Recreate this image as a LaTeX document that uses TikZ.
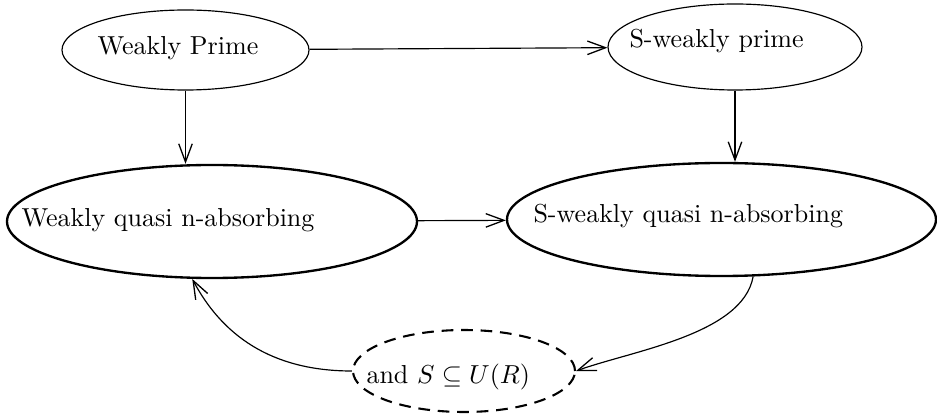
\documentclass[tikz,border=0pt]{standalone}
\usetikzlibrary{arrows.meta,shapes.geometric}
\newcommand\pxu{0.3846pt}
\begin{document}
\begin{tikzpicture}[x=0.3846pt,y=-0.3846pt,
  >={Straight Barb[length=7pt,width=5.2pt,line width=0.5pt]},
  thinell/.style={ellipse,draw,line width=0.45pt,inner sep=0pt},
  bigell/.style={ellipse,draw,line width=0.9pt,inner sep=0pt},
  dashell/.style={ellipse,draw,line width=0.8pt,inner sep=0pt,dash pattern=on 4.5pt off 3pt},
  lbl/.style={anchor=base west,inner sep=0pt},
  conn/.style={->,line width=0.45pt}]
\useasboundingbox (0,0) rectangle (937,415);
% ellipses
\node[thinell,minimum width=247*\pxu,minimum height=80*\pxu] (WP) at (185.5,50) {};
\node[thinell,minimum width=254*\pxu,minimum height=86*\pxu] (SWP) at (735,47) {};
\node[bigell,minimum width=410*\pxu,minimum height=113*\pxu] (WQ) at (212,221.5) {};
\node[bigell,minimum width=429*\pxu,minimum height=113*\pxu] (SWQ) at (721.5,219.5) {};
\node[dashell,minimum width=222*\pxu,minimum height=82*\pxu] (D) at (464,371) {};
% texts
\node[lbl] (tWP) at (97,55) {Weakly Prime};
\node[lbl] (tSWP) at (629,48) {S-weakly prime};
\node[lbl] (tWQ) at (21,227) {Weakly quasi n-absorbing};
\node[lbl] (tSWQ) at (533,223) {S-weakly quasi n-absorbing};
\node[lbl] (tD) at (366,383) {and $S\subseteq U(R)$};
% connectors
\draw[conn] (WP) -- (SWP);
\draw[conn] (WP.south) -- (WP.south |- WQ.north);
\draw[conn] (SWP.south) -- (SWP.south |- SWQ.north);
\draw[conn] (WQ) -- (SWQ);
\draw[conn] (SWQ.-61) to[out=-100,in=20,looseness=0.75] (D.east);
\draw[conn] (D.west) to[out=180,in=-62] (WQ.-109);
\end{tikzpicture}
\end{document}
